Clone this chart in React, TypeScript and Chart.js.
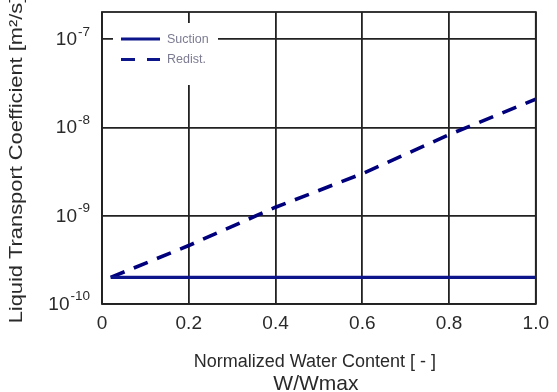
import React, { useEffect, useRef } from 'react';
import { Chart, registerables } from 'chart.js';
Chart.register(...registerables);

const waterContent = [0.02, 0.2, 0.4, 0.6, 0.8, 1.0];
const suction = [2e-10, 2e-10, 2e-10, 2e-10, 2e-10, 2e-10];
const redist = [2e-10, 4.6e-10, 1.25e-9, 3.0e-9, 8.3e-9, 2.1e-8];
const xTicks = [0, 0.2, 0.4, 0.6, 0.8, 1.0];
const yTicks = [1e-10, 1e-9, 1e-8, 1e-7];
const seriesNames = ['Suction', 'Redist.'];
const yTitle = 'Liquid Transport Coefficient [m²/s]';
const xTitle = ['Normalized Water Content [ - ]', 'W/Wmax'];

const FONT = "'Liberation Sans', Arial, sans-serif";
const LINE_COLOR = '#0c168a';
const GRID = '#222222';
const TEXT = '#2a2a2a';

const decor = {
  id: 'decor',
  beforeDatasetsDraw(chart: any) {
    const { ctx, chartArea: a } = chart;
    ctx.save();
    ctx.fillStyle = '#ffffff';
    ctx.fillRect(a.left + 11, a.top + 11, 105, 62);
    ctx.strokeStyle = LINE_COLOR;
    ctx.lineWidth = 3;
    ctx.beginPath();
    ctx.moveTo(a.left + 19, a.top + 27);
    ctx.lineTo(a.left + 58, a.top + 27);
    ctx.stroke();
    ctx.setLineDash([14, 12]);
    ctx.beginPath();
    ctx.moveTo(a.left + 19, a.top + 47.5);
    ctx.lineTo(a.left + 58, a.top + 47.5);
    ctx.stroke();
    ctx.setLineDash([]);
    ctx.fillStyle = '#7c7c92';
    ctx.font = `12.5px ${FONT}`;
    ctx.textAlign = 'left';
    ctx.textBaseline = 'middle';
    ctx.fillText(seriesNames[0], a.left + 65, a.top + 27.5);
    ctx.fillText(seriesNames[1], a.left + 65, a.top + 48);
    ctx.restore();
  },
  afterDraw(chart: any) {
    const { ctx, chartArea: a, scales } = chart;
    ctx.save();
    ctx.strokeStyle = GRID;
    ctx.lineWidth = 1.8;
    ctx.strokeRect(a.left, a.top, a.right - a.left, a.bottom - a.top);
    const ys = scales.y;
    ctx.fillStyle = TEXT;
    ctx.textBaseline = 'middle';
    ctx.textAlign = 'left';
    yTicks.forEach((v) => {
      const y = ys.getPixelForValue(v);
      const exp = String(Math.round(Math.log10(v)));
      ctx.font = `19px ${FONT}`;
      const w1 = ctx.measureText('10').width;
      ctx.font = `13.5px ${FONT}`;
      const w2 = ctx.measureText(exp).width;
      const x0 = a.left - 12 - w1 - w2 - 1;
      ctx.font = `19px ${FONT}`;
      ctx.fillText('10', x0, y + 0.5);
      ctx.font = `13.5px ${FONT}`;
      ctx.fillText(exp, x0 + w1 + 1, y - 7.5);
    });
    ctx.save();
    ctx.translate(17, (a.top + a.bottom) / 2 + 2);
    ctx.rotate(-Math.PI / 2);
    ctx.scale(1.15, 1);
    ctx.font = `19px ${FONT}`;
    ctx.textAlign = 'center';
    ctx.textBaseline = 'middle';
    ctx.fillText(yTitle, 0, 0);
    ctx.restore();
    const cx = (a.left + a.right) / 2;
    ctx.textAlign = 'center';
    ctx.font = `18px ${FONT}`;
    ctx.fillText(xTitle[0], cx - 4, 362);
    ctx.font = `21px ${FONT}`;
    ctx.fillText(xTitle[1], cx - 3, 384);
    ctx.restore();
  },
};

export default function App() {
  const ref = useRef<HTMLCanvasElement>(null);
  useEffect(() => {
    if (!ref.current) return;
    const chart = new Chart(ref.current, {
      type: 'line',
      data: {
        datasets: [
          {
            label: seriesNames[0],
            data: waterContent.map((x, i) => ({ x, y: suction[i] })),
            borderColor: LINE_COLOR,
            borderWidth: 3.2,
            pointRadius: 0,
            fill: false,
          },
          {
            label: seriesNames[1],
            data: waterContent.map((x, i) => ({ x, y: redist[i] })),
            borderColor: '#00007c',
            borderWidth: 3.6,
            borderDash: [15, 10],
            pointRadius: 0,
            fill: false,
          },
        ],
      },
      options: {
        animation: false,
        responsive: false,
        devicePixelRatio: 1,
        layout: { padding: { top: 12, right: 13, left: 0, bottom: 0 } },
        plugins: { legend: { display: false }, tooltip: { enabled: false } },
        scales: {
          x: {
            type: 'linear',
            min: 0,
            max: 1,
            afterBuildTicks: (s: any) => {
              s.ticks = xTicks.map((v) => ({ value: v }));
            },
            afterFit: (s: any) => {
              s.height = 88;
            },
            grid: { color: GRID, lineWidth: 1.8, drawTicks: false },
            border: { display: false },
            ticks: {
              padding: 8,
              color: TEXT,
              font: { family: FONT, size: 19 },
              callback: (v: any) => (Number(v) === 0 ? '0' : Number(v).toFixed(1)),
            },
          },
          y: {
            type: 'logarithmic',
            min: 1e-10,
            max: 2.04e-7,
            afterBuildTicks: (s: any) => {
              s.ticks = yTicks.map((v) => ({ value: v }));
            },
            afterFit: (s: any) => {
              s.width = 102;
            },
            grid: { color: GRID, lineWidth: 1.8, drawTicks: false },
            border: { display: false },
            ticks: { display: false },
          },
        },
      },
      plugins: [decor],
    });
    return () => chart.destroy();
  }, []);
  return (
    <div style={{ position: 'fixed', left: 0, top: 0, width: 557, height: 392, background: '#fff' }}>
      <canvas ref={ref} width={557} height={392} style={{ display: 'block' }} />
    </div>
  );
}
